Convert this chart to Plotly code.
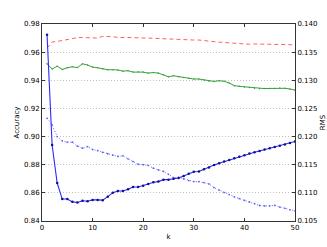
import plotly.graph_objects as go

k = list(range(1, 51))

acc_red = [0.9629, 0.9672, 0.9676, 0.9683, 0.9688, 0.9698, 0.9703, 0.9704, 0.9704, 0.9704,
           0.9700, 0.9712, 0.9712, 0.9710, 0.9704, 0.9706, 0.9704, 0.9703, 0.9700, 0.9700,
           0.9700, 0.9698, 0.9696, 0.9693, 0.9691, 0.9690, 0.9690, 0.9688, 0.9686, 0.9686,
           0.9686, 0.9684, 0.9681, 0.9675, 0.9671, 0.9669, 0.9667, 0.9665, 0.9660, 0.9656,
           0.9656, 0.9658, 0.9658, 0.9658, 0.9658, 0.9658, 0.9657, 0.9655, 0.9653, 0.9651]

acc_green = [0.9517, 0.9480, 0.9500, 0.9477, 0.9489, 0.9496, 0.9490, 0.9517, 0.9508, 0.9494,
             0.9489, 0.9480, 0.9475, 0.9475, 0.9473, 0.9465, 0.9468, 0.9458, 0.9460, 0.9458,
             0.9451, 0.9455, 0.9451, 0.9440, 0.9425, 0.9432, 0.9425, 0.9420, 0.9414, 0.9409,
             0.9409, 0.9402, 0.9394, 0.9392, 0.9397, 0.9393, 0.9380, 0.9362, 0.9357, 0.9353,
             0.9348, 0.9344, 0.9340, 0.9341, 0.9342, 0.9342, 0.9346, 0.9343, 0.9338, 0.9330]

rms_blue = [0.1381, 0.1185, 0.11175, 0.1089, 0.1089, 0.1084, 0.1083, 0.1086, 0.1085, 0.10875,
            0.10875, 0.1087, 0.10933, 0.11003, 0.11033, 0.11033, 0.11065, 0.11105, 0.11105, 0.11125,
            0.11158, 0.11188, 0.1120, 0.11235, 0.11235, 0.1125, 0.11263, 0.1130, 0.11338, 0.11375,
            0.1138, 0.1142, 0.1145, 0.11493, 0.11525, 0.11555, 0.11585, 0.11615, 0.11643, 0.1167,
            0.11698, 0.11723, 0.11745, 0.1177, 0.11793, 0.11815, 0.11838, 0.1186, 0.11885, 0.11913]

rms_blue_dot = [0.12325, 0.12208, 0.1200, 0.11925, 0.1190, 0.1190, 0.1183, 0.11793, 0.11823, 0.1177,
                0.1175, 0.1172, 0.11695, 0.1167, 0.11648, 0.11658, 0.11605, 0.11555, 0.11508, 0.1150,
                0.11488, 0.11438, 0.11408, 0.1138, 0.1133, 0.1127, 0.11275, 0.11248, 0.11218, 0.1120,
                0.1120, 0.11183, 0.11158, 0.11093, 0.1105, 0.11005, 0.1097, 0.1093, 0.10898, 0.10868,
                0.10838, 0.10808, 0.10775, 0.10768, 0.10768, 0.10778, 0.10748, 0.10725, 0.10698, 0.1068]

acc_ticks = [0.84, 0.86, 0.88, 0.90, 0.92, 0.94, 0.96, 0.98]
rms_ticks = [0.105, 0.110, 0.115, 0.120, 0.125, 0.130, 0.135, 0.140]
k_ticks = [0, 10, 20, 30, 40, 50]

FONT = "DejaVu Sans"

fig = go.Figure()
fig.add_trace(go.Scatter(x=k, y=acc_red, mode="lines", yaxis="y",
                         line=dict(color="#ff6060", width=1, dash="4px,3px")))
fig.add_trace(go.Scatter(x=k, y=acc_green, mode="lines+markers", yaxis="y",
                         line=dict(color="#3aa03a", width=1),
                         marker=dict(size=1.5, color="#3aa03a")))
fig.add_trace(go.Scatter(x=k, y=rms_blue_dot, mode="lines+markers", yaxis="y2",
                         line=dict(color="#6060ff", width=1, dash="1px,2px"),
                         marker=dict(size=1.8, color="#6060ff")))
fig.add_trace(go.Scatter(x=k, y=rms_blue, mode="lines+markers", yaxis="y2",
                         line=dict(color="#2a2aff", width=1.1),
                         marker=dict(size=2.5, color="#10108a")))

fig.update_layout(
    width=327, height=247,
    margin=dict(l=42, r=32, t=24, b=26),
    paper_bgcolor="white", plot_bgcolor="white",
    showlegend=False,
    font=dict(family=FONT, size=7, color="black"),
    xaxis=dict(range=[0, 50], tickvals=k_ticks, ticktext=[str(v) for v in k_ticks],
               ticks="inside", ticklen=3, tickcolor="#333", showgrid=False, zeroline=False,
               showline=True, linecolor="#333", linewidth=1, mirror="ticks", automargin=False,
               title=dict(text="k", standoff=2, font=dict(size=7))),
    yaxis=dict(range=[0.84, 0.98], tickvals=acc_ticks, ticktext=[f"{v:.2f}" for v in acc_ticks],
               ticks="inside", ticklen=3, tickcolor="#333", showgrid=True,
               gridcolor="#c0c0c0", griddash="1px,2px", gridwidth=1, zeroline=False,
               showline=True, linecolor="#333", linewidth=1, automargin=False,
               title=dict(text="Accuracy", standoff=3, font=dict(size=7))),
    yaxis2=dict(range=[0.105, 0.140], tickvals=rms_ticks, ticktext=[f"{v:.3f}" for v in rms_ticks],
                overlaying="y", side="right", ticks="inside", ticklen=3, tickcolor="#333",
                showgrid=False, zeroline=False, showline=True, linecolor="#333", linewidth=1,
                automargin=False,
                title=dict(text="RMS", standoff=4, font=dict(size=7))),
)

fig.write_html("out.html", config={"displayModeBar": False},
               post_script="document.body.style.margin='0';document.body.style.padding='0';")
